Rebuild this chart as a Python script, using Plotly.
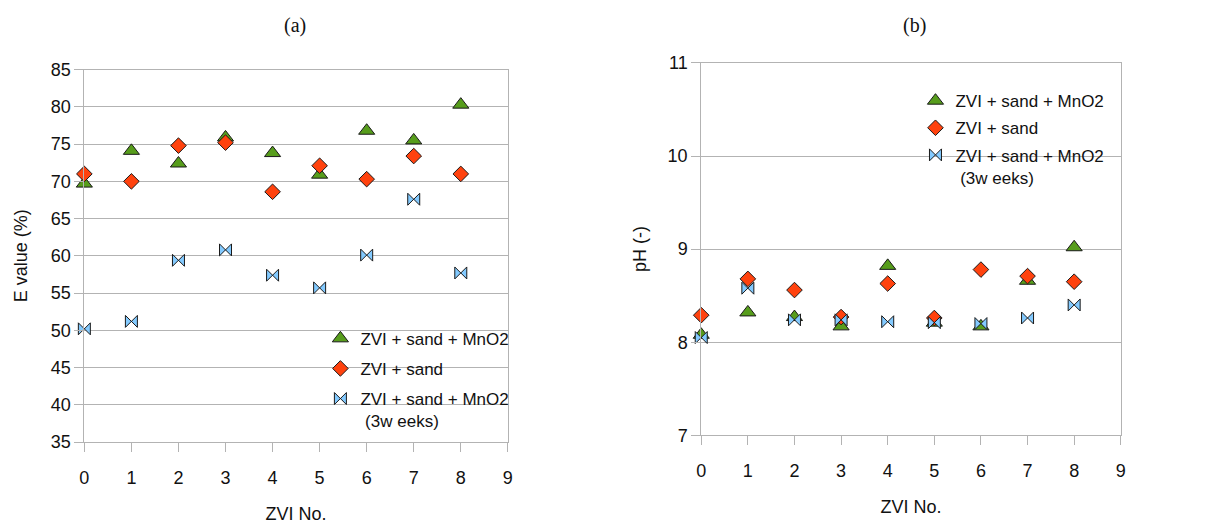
import plotly.graph_objects as go

zvi_no = [0, 1, 2, 3, 4, 5, 6, 7, 8]

# (a) E value (%)
e_mno2 = [69.7, 74.1, 72.4, 75.9, 73.8, 70.9, 76.8, 75.5, 80.3]
e_sand = [71.0, 70.0, 74.8, 75.2, 68.6, 72.1, 70.3, 73.4, 71.0]
e_mno2_3w = [50.2, 51.2, 59.4, 60.8, 57.4, 55.7, 60.1, 67.6, 57.7]

# (b) pH (-)
ph_mno2 = [8.08, 8.32, 8.27, 8.17, 8.82, 8.21, 8.17, 8.66, 9.02]
ph_sand = [8.29, 8.68, 8.56, 8.27, 8.63, 8.26, 8.78, 8.71, 8.65]
ph_mno2_3w = [8.05, 8.58, 8.24, 8.24, 8.22, 8.21, 8.20, 8.26, 8.40]

names = ["ZVI + sand + MnO2", "ZVI + sand", "ZVI + sand + MnO2<br> (3w eeks)"]
colors = ["#579d1c", "#ff420e", "#83caff"]
symbols = ["triangle-up", "diamond", "bowtie"]
sizes = [14, 12, 12]

fig = go.Figure()
for i, ys in enumerate([e_mno2, e_sand, e_mno2_3w]):
    fig.add_trace(go.Scatter(
        x=zvi_no, y=ys, mode="markers", name=names[i],
        marker=dict(symbol=symbols[i], color=colors[i], size=sizes[i],
                    line=dict(color="#1a1a1a", width=1)),
        cliponaxis=False, legend="legend", legendgroup="a%d" % i,
        xaxis="x", yaxis="y"))
for i, ys in enumerate([ph_mno2, ph_sand, ph_mno2_3w]):
    fig.add_trace(go.Scatter(
        x=zvi_no, y=ys, mode="markers", name=names[i],
        marker=dict(symbol=symbols[i], color=colors[i], size=sizes[i],
                    line=dict(color="#1a1a1a", width=1)),
        cliponaxis=False, legend="legend2", legendgroup="b%d" % i,
        xaxis="x2", yaxis="y2"))

grid = "#b3b3b3"
font = dict(family="Liberation Sans, Arial, sans-serif", size=18, color="#111111")
lfont = dict(family="Liberation Sans, Arial, sans-serif", size=17, color="#111111")

def xax(domain, anchor):
    return dict(domain=domain, anchor=anchor, range=[0, 9], dtick=1, tick0=0,
                showgrid=False, zeroline=False, showline=True, linecolor=grid,
                mirror=True, ticks="outside", ticklen=9, tickcolor=grid,
                ticklabelstandoff=10,
                title=dict(text="ZVI No.", font=font, standoff=20),
                tickfont=font)

def yax(domain, anchor, rng, dtick, title, standoff):
    return dict(domain=domain, anchor=anchor, range=rng, dtick=dtick,
                showgrid=True, gridcolor=grid, zeroline=False, showline=True,
                linecolor=grid, mirror=True, ticks="outside", ticklen=9,
                tickcolor=grid, tickfont=font,
                title=dict(text=title, font=font, standoff=standoff))

fig.update_layout(
    width=1220, height=529,
    margin=dict(l=0, r=0, t=0, b=0),
    paper_bgcolor="white", plot_bgcolor="white",
    font=font,
    xaxis=xax([80 / 1220, 507 / 1220], "y"),
    yaxis=yax([80 / 529, 467 / 529], "x", [35, 85], 5, "E value (%)", 18),
    xaxis2=xax([702 / 1220, 1125 / 1220], "y2"),
    yaxis2=yax([87 / 529, 474 / 529], "x2", [7, 11], 1, "pH (-)", 16),
    legend=dict(x=318 / 1220, y=1 - 323 / 529, xanchor="left", yanchor="top",
                bgcolor="rgba(0,0,0,0)", font=lfont, tracegroupgap=5,
                valign="top", itemwidth=30),
    legend2=dict(x=918 / 1220, y=1 - 76 / 529, xanchor="left", yanchor="top",
                 bgcolor="rgba(0,0,0,0)", font=lfont, tracegroupgap=2,
                 valign="top", itemwidth=30),
    showlegend=True,
    annotations=[
        dict(text="(a)", x=292 / 1220, y=1 - 2 / 529, xref="paper", yref="paper",
             xanchor="center", yanchor="top", showarrow=False,
             font=dict(family="Liberation Serif, Times New Roman, serif",
                       size=20, color="#111111")),
        dict(text="(b)", x=917 / 1220, y=1 - 2 / 529, xref="paper", yref="paper",
             xanchor="center", yanchor="top", showarrow=False,
             font=dict(family="Liberation Serif, Times New Roman, serif",
                       size=20, color="#111111")),
    ],
)

fig.write_html("out.html")
